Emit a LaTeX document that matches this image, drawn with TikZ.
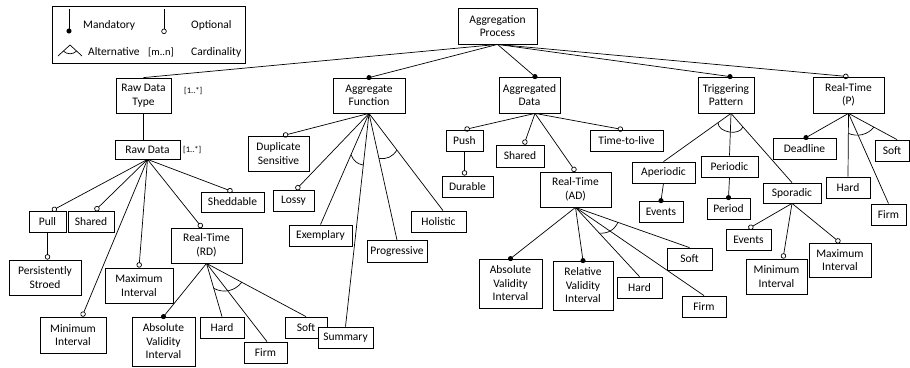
\documentclass[tikz,border=0pt]{standalone}
\usepackage{fontspec}
\setmainfont{Carlito}
\usetikzlibrary{arrows.meta,calc}
\newcommand\altarc[6]{\draw[alt] ($(#1)!#4pt!(#2)$) to[bend right=#6] ($(#1)!#5pt!(#3)$);}
\begin{document}
\begin{tikzpicture}[x=1pt,y=-1pt,
  box/.style={draw, fill=white, line width=0.8pt, inner sep=0pt, align=center, font=\fontsize{11.5}{13.5}\selectfont},
  wh/.style 2 args={minimum width=#1pt, minimum height=#2pt},
  conn/.style={line width=0.7pt},
  opt/.style={conn, -{Circle[open,length=5.4pt,width=5.4pt]}},
  mand/.style={conn, -{Circle[length=5pt,width=5pt]}, shorten >=-2.5pt},
  alt/.style={line width=0.7pt},
  lbl/.style={inner sep=0pt, anchor=west, font=\fontsize{11.5}{13.5}\selectfont},
  card/.style={inner sep=0pt, anchor=west, font=\fontsize{8.5}{10}\selectfont}
]
\useasboundingbox (0,0) rectangle (910,367);

% legend
\node[draw, line width=0.8pt, inner sep=0pt, minimum width=193pt, minimum height=57pt] (legend) at (148.5,34.5) {};
\coordinate (lm1) at (69,9); \coordinate (lm2) at (69,31);
\draw[mand] (lm1) -- (lm2);
\coordinate (lo1) at (164,9); \coordinate (lo2) at (164,34);
\draw[opt] (lo1) -- (lo2);
\coordinate (la) at (70,45); \coordinate (lal) at (58,56); \coordinate (lar) at (82,56);
\draw[conn] (lal) -- (la) -- (lar);
\draw[alt] ($(la)!0.55!(lal)$) to[bend right=45] ($(la)!0.55!(lar)$);
\node[lbl] (tm) at (83,25) {Mandatory};
\node[lbl] (to) at (191,25) {Optional};
\node[lbl] (ta) at (88,52) {Alternative};
\node[lbl, font=\fontsize{10.5}{12}\selectfont] (tc) at (148,52) {[m..n]};
\node[lbl] (tcd) at (191,52) {Cardinality};

% nodes
\node[box,wh={79}{36}] (ap) at (497.5,26) {Aggregation\\Process};
\node[box,wh={55}{35}] (rdt) at (143.5,95.5) {Raw Data\\Type};
\node[box,wh={65}{19}] (rd) at (147.5,149.5) {Raw Data};
\node[card] (c1) at (184,91.5) {[1..*]};
\node[card] (c2) at (183,150.5) {[1..*]};
\node[box,wh={37}{21}] (pull) at (47.5,221.5) {Pull};
\node[box,wh={46}{21}] (sh1) at (91,221.5) {Shared};
\node[box,wh={72}{35}] (ps) at (45,277.5) {Persistently\\Stroed};
\node[box,wh={68}{35}] (max1) at (139,285.5) {Maximum\\Interval};
\node[box,wh={66}{36}] (min1) at (73,335) {Minimum\\Interval};
\node[box,wh={71}{35}] (rtrd) at (206.5,245.5) {Real-Time\\(RD)};
\node[box,wh={63}{20}] (shed) at (232.5,202) {Sheddable};
\node[box,wh={63}{49}] (avi1) at (163.5,341.5) {Absolute\\Validity\\Interval};
\node[box,wh={44}{21}] (hard1) at (222,327.5) {Hard};
\node[box,wh={43}{21}] (firm1) at (265.5,352.5) {Firm};
\node[box,wh={42}{21}] (soft1) at (306,327.5) {Soft};
\node[box,wh={72}{35}] (af) at (369,95.5) {Aggregate\\Function};
\node[box,wh={61}{35}] (dup) at (278.5,153.5) {Duplicate\\Sensitive};
\node[box,wh={41}{21}] (lossy) at (293.5,200.5) {Lossy};
\node[box,wh={63}{21}] (exem) at (320.5,235.5) {Exemplary};
\node[box,wh={55}{21}] (summ) at (345.5,337.5) {Summary};
\node[box,wh={60}{22}] (prog) at (397,251.5) {Progressive};
\node[box,wh={55}{21}] (holi) at (438.5,221.5) {Holistic};
\node[box,wh={61}{36}] (adat) at (529.5,95) {Aggregated\\Data};
\node[box,wh={37}{21}] (push) at (464.5,140.5) {Push};
\node[box,wh={51}{21}] (dur) at (467.5,186.5) {Durable};
\node[box,wh={48}{22}] (sh2) at (520,156) {Shared};
\node[box,wh={73}{21}] (ttl) at (626.5,140.5) {Time-to-live};
\node[box,wh={71}{35}] (rtad) at (575.5,189.5) {Real-Time\\(AD)};
\node[box,wh={63}{49}] (avi2) at (510.5,283.5) {Absolute\\Validity\\Interval};
\node[box,wh={60}{49}] (rvi) at (583,285.5) {Relative\\Validity\\Interval};
\node[box,wh={45}{21}] (hard2) at (639.5,287.5) {Hard};
\node[box,wh={44}{21}] (firm2) at (704,306.5) {Firm};
\node[box,wh={45}{22}] (soft2) at (689.5,259) {Soft};
\node[box,wh={56}{36}] (tp) at (726,95) {Triggering\\Pattern};
\node[box,wh={63}{21}] (aper) at (663.5,172.5) {Aperiodic};
\node[box,wh={57}{21}] (peri) at (729.5,166.5) {Periodic};
\node[box,wh={58}{20}] (spor) at (792,193) {Sporadic};
\node[box,wh={44}{21}] (ev1) at (661,211.5) {Events};
\node[box,wh={43}{21}] (period) at (728.5,208.5) {Period};
\node[box,wh={45}{21}] (ev2) at (748.5,239.5) {Events};
\node[box,wh={61}{35}] (min2) at (776.5,276.5) {Minimum\\Interval};
\node[box,wh={62}{34}] (max2) at (840,260) {Maximum\\Interval};
\node[box,wh={71}{36}] (rtp) at (848.5,95) {Real-Time\\(P)};
\node[box,wh={63}{21}] (dead) at (804.5,148.5) {Deadline};
\node[box,wh={44}{21}] (hard3) at (848,187.5) {Hard};
\node[box,wh={34}{21}] (soft3) at (892,150.5) {Soft};
\node[box,wh={35}{21}] (firm3) at (888.5,214.5) {Firm};

% top level
\draw[conn] (ap.south) -- (rdt.north);
\draw[mand] (ap.south) -- (af.north);
\draw[mand] (ap.south) -- ([xshift=5.5pt]adat.north);
\draw[mand] (ap.south) -- ([xshift=4pt]tp.north);
\draw[opt] (ap.south) -- (rtp.north);

% raw data
\draw[conn] (rdt.south) -- (rdt.south |- rd.north);
\draw[opt] (rd.south) -- ([xshift=4.5pt]pull.north);
\draw[opt] (rd.south) -- ([xshift=4pt]sh1.north);
\draw[opt] (rd.south) -- ([xshift=9pt]min1.north);
\draw[opt] (rd.south) -- (max1.north);
\draw[opt] (rd.south) -- ([xshift=-4.5pt]rtrd.north);
\draw[opt] (rd.south) -- (shed.north);
\draw[opt] (pull.south) -- (pull.south |- ps.north);

% real-time RD
\draw[mand] (rtrd.south) -- (avi1.north);
\draw[conn] (rtrd.south) -- (hard1.north);
\draw[conn] (rtrd.south) -- ([xshift=1.5pt]firm1.north);
\draw[conn] (rtrd.south) -- (soft1.north);
\altarc{rtrd.south}{hard1.north}{soft1.north}{26}{40}{40}

% aggregate function
\coordinate (holiT) at ([xshift=4.5pt]holi.north);
\draw[opt] (af.south) -- ([xshift=4.5pt]dup.north);
\draw[opt] (af.south) -- ([xshift=2.5pt]lossy.north);
\draw[conn] (af.south) -- (exem.north);
\draw[conn] (af.south) -- (summ.north);
\draw[conn] (af.south) -- (prog.north);
\draw[conn] (af.south) -- (holiT);
\altarc{af.south}{exem.north}{summ.north}{45}{52}{30}
\altarc{af.south}{prog.north}{holiT}{46}{46}{35}

% aggregated data
\coordinate (adB) at ([xshift=5.5pt]adat.south);
\draw[opt] (adB) -- (push.north);
\draw[opt] (adB) -- ([xshift=4pt]sh2.north);
\draw[opt] (adB) -- ([xshift=-3.5pt]ttl.north);
\draw[opt] (adB) -- (rtad.north);
\draw[opt] (push.south) -- (push.south |- dur.north);

% real-time AD
\draw[mand] (rtad.south) -- (avi2.north);
\draw[mand] (rtad.south) -- (rvi.north);
\draw[conn] (rtad.south) -- (hard2.north);
\draw[conn] (rtad.south) -- (firm2.north);
\draw[conn] (rtad.south) -- (soft2.north);
\altarc{rtad.south}{hard2.north}{soft2.north}{35}{45}{35}

% triggering pattern
\coordinate (tpB) at ([xshift=5pt]tp.south);
\draw[conn] (tpB) -- (aper.north);
\draw[conn] (tpB) -- (peri.north);
\draw[conn] (tpB) -- (spor.north);
\altarc{tpB}{aper.north}{spor.north}{16}{18}{80}
\draw[mand] (aper.south) -- (ev1.north);
\draw[mand] (peri.south) -- (period.north);
\draw[opt] (spor.south) -- (ev2.north);
\draw[opt] (spor.south) -- ([xshift=6.5pt]min2.north);
\draw[opt] (spor.south) -- (max2.north);

% real-time P
\coordinate (soft3T) at ([xshift=5pt]soft3.north);
\draw[mand] (rtp.south) -- ([xshift=1.5pt]dead.north);
\draw[conn] (rtp.south) -- (hard3.north);
\draw[conn] (rtp.south) -- (firm3.north);
\draw[conn] (rtp.south) -- (soft3T);
\altarc{rtp.south}{hard3.north}{soft3T}{20}{29}{35}
\end{tikzpicture}
\end{document}
